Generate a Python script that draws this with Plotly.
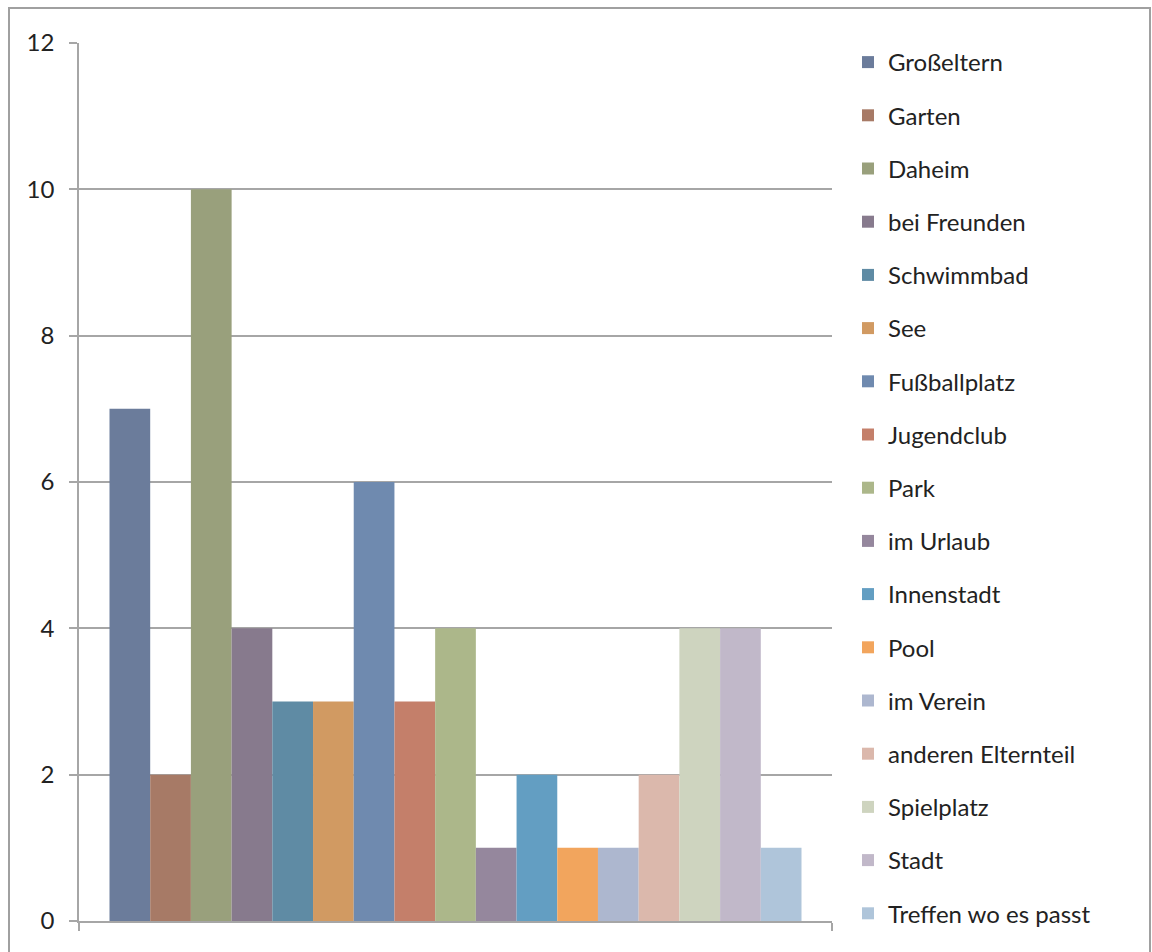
import plotly.graph_objects as go

# Where children spend their free time (number of mentions)
places = [
    "Großeltern", "Garten", "Daheim", "bei Freunden", "Schwimmbad", "See",
    "Fußballplatz", "Jugendclub", "Park", "im Urlaub", "Innenstadt", "Pool",
    "im Verein", "anderen Elternteil", "Spielplatz", "Stadt", "Treffen wo es passt",
]
counts = [7, 2, 10, 4, 3, 3, 6, 3, 4, 1, 2, 1, 1, 2, 4, 4, 1]
colors = [
    "#6b7c9b", "#a77a66", "#99a07c", "#877a8d", "#5f8ba4", "#d19a62",
    "#6f8aaf", "#c47f6a", "#acb78a", "#95879d", "#639ec2", "#f2a55d",
    "#adb7cf", "#dbb8ac", "#ced4bf", "#c1b8c9", "#afc5da",
]
y_ticks = [0, 2, 4, 6, 8, 10, 12]

W, H = 1152, 952
L, R, T, B = 79, 832, 43, 921  # plot area in pixels

fig = go.Figure()
for i, (name, val, col) in enumerate(zip(places, counts, colors)):
    fig.add_trace(go.Bar(
        x=[0], y=[val], name=name, marker=dict(color=col, line=dict(width=0)),
        legendgroup=f"g{i}",
    ))

axis_grey = "#a6a6a6"
font_family = "Lato, 'Open Sans', sans-serif"

fig.update_layout(
    width=W, height=H,
    margin=dict(l=L, r=W - R, t=T, b=H - B, pad=0),
    paper_bgcolor="white", plot_bgcolor="white",
    barmode="group", bargap=0.081, bargroupgap=0,
    font=dict(family=font_family, size=24, color="#222222"),
    xaxis=dict(
        range=[-0.5, 0.5], tickvals=[-0.5, 0.5], ticktext=["", ""],
        ticks="outside", ticklen=8, tickcolor=axis_grey, tickwidth=1.5,
        showline=True, linecolor=axis_grey, linewidth=1.5,
        showgrid=False, zeroline=False, fixedrange=True,
    ),
    yaxis=dict(
        range=[0, 12], tickvals=y_ticks,
        ticks="outside", ticklen=8, tickcolor=axis_grey, tickwidth=1.5,
        showline=True, linecolor=axis_grey, linewidth=1.5,
        showgrid=True, gridcolor=axis_grey, gridwidth=1.5,
        zeroline=False, ticklabelstandoff=10,
        tickfont=dict(size=24, color="#222222"),
    ),
    legend=dict(
        x=(848 - L) / (R - L), xanchor="left",
        y=(B - 40) / (B - T), yanchor="top",
        font=dict(size=24, color="#222222"),
        tracegroupgap=19, itemwidth=30,
        maxheight=952,
        bgcolor="rgba(0,0,0,0)",
    ),
    showlegend=True,
)

# Outer chart frame
def px_x(p):
    return (p - L) / (R - L)

def px_y(p):
    return (B - p) / (B - T)

fig.add_shape(
    type="rect", xref="paper", yref="paper",
    x0=px_x(9), x1=px_x(1150), y0=px_y(960), y1=px_y(8),
    line=dict(color="#a0a0a0", width=2), fillcolor="rgba(0,0,0,0)", layer="below",
)

fig.write_html("out.html")
